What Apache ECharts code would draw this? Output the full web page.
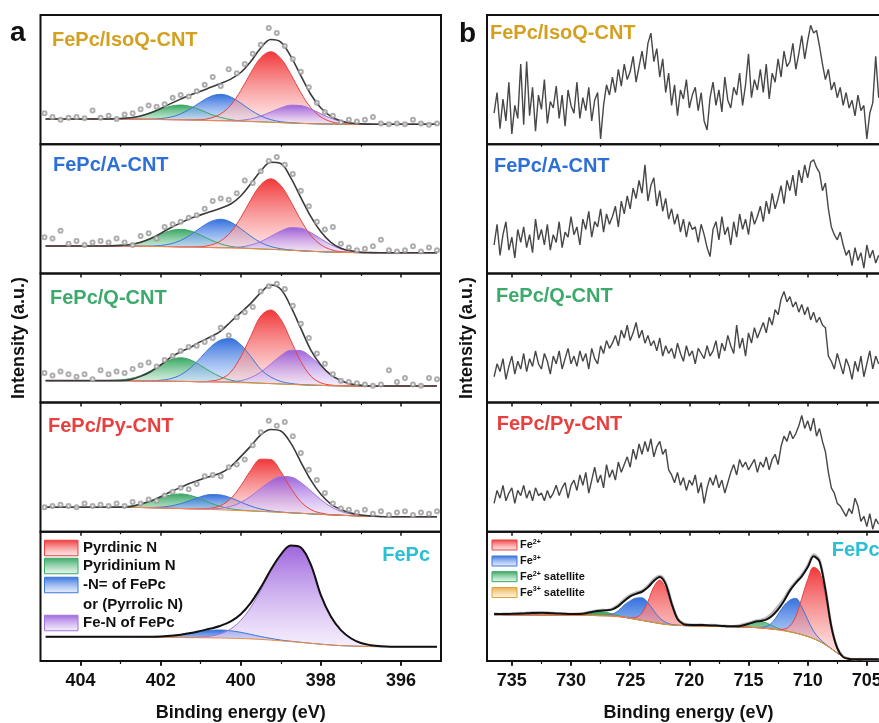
<!DOCTYPE html>
<html>
<head>
<meta charset="utf-8">
<script src="https://cdn.jsdelivr.net/npm/echarts@6/dist/echarts.min.js"></script>
<style>
  html, body { margin: 0; padding: 0; background: #ffffff; }
  #chart { width: 879px; height: 723px; }
</style>
</head>
<body>
<div id="chart"></div>
<script>
// ---------------- N 1s (panel a) ----------------
const N_EV = [404.87,404.75,404.5,404.25,404,403.75,403.5,403.25,403,402.75,402.5,402.25,402,401.75,401.5,401.25,401,400.75,400.5,400.25,400,399.75,399.5,399.25,399,398.75,398.5,398.25,398,397.75,397.5,397.25,397,396.75,396.5,396.25,396,395.75,395.5,395.25,395.1];
const DOT_EV = [404.9,404.7,404.5,404.3,404.1,403.9,403.7,403.5,403.3,403.1,402.9,402.7,402.5,402.3,402.1,401.9,401.7,401.5,401.3,401.1,400.9,400.7,400.5,400.3,400.1,399.9,399.7,399.5,399.3,399.1,398.9,398.7,398.5,398.3,398.1,397.9,397.7,397.5,397.3,397.1,396.9,396.7,396.5,396.3,396.1,395.9,395.7,395.5,395.3,395.1];
const N_TICKS = [396, 398, 400, 402, 404];
const N_MINOR = [397, 399, 401, 403];

// FePc/IsoQ-CNT
const A1_BG = [19.5,19.5,19.5,19.5,19.5,19.5,19.5,19.5,19.5,19.4,19.3,19.2,19.1,19.0,18.9,18.7,18.5,18.3,18.1,17.9,17.7,17.5,17.3,17.0,16.7,16.4,16.1,15.9,15.7,15.6,15.5,15.4,15.4,15.4,15.4,15.4,15.4,15.4,15.4,15.4,15.4];
const A1_GREEN = [0,0,0,0,0,0,0,0.1,0.4,1.1,2.6,4.9,7.9,10.4,11.4,10.4,7.9,4.9,2.6,1.1,0.4,0.1,0,0,0,0,0,0,0,0,0,0,0,0,0,0,0,0,0,0,0];
const A1_BLUE = [0,0,0,0,0,0,0,0,0,0,0,0.2,0.7,2.0,4.6,8.9,14.1,18.7,20.5,18.7,14.1,8.9,4.6,2.0,0.7,0.2,0,0,0,0,0,0,0,0,0,0,0,0,0,0,0];
const A1_RED = [0,0,0,0,0,0,0,0,0,0,0,0,0,0,0,0.2,0.5,1.9,5.4,12.3,23.7,37.7,49.7,54.6,49.7,37.7,23.7,12.3,5.4,1.9,0.5,0.2,0,0,0,0,0,0,0,0,0];
const A1_PURPLE = [0,0,0,0,0,0,0,0,0,0,0,0,0,0,0,0,0,0,0.1,0.3,0.8,2.1,4.5,7.9,11.4,13.8,13.8,11.4,7.9,4.5,2.1,0.8,0.3,0.1,0,0,0,0,0,0,0];
const A1_FIT = [19.5,19.5,19.5,19.5,19.5,19.5,19.5,19.6,19.9,20.5,21.9,24.3,27.7,31.4,34.9,38.2,41.0,44.0,47.0,50.4,55.5,64.0,74.5,81.0,79.0,68.0,53.0,38.5,28.0,21.5,18.0,16.4,15.7,15.5,15.4,15.4,15.4,15.4,15.4,15.4,15.4];
const A1_DOTS = [24,21,19,20.5,21,20,26,20.5,22,19.5,23,24,27,30,29,31,36,38,37,41,46,52,45,58,55,62,70,77,90,86,76,66,56,44,32,25,22,17,19,17.5,19,21,16,15.5,16,15.5,19,16,15,16];

// FePc/A-CNT
const A2_BG = [21.2,21.2,21.2,21.2,21.2,21.2,21.2,21.2,21.2,21.1,21.0,20.9,20.8,20.7,20.5,20.4,20.2,20.0,19.8,19.6,19.4,19.2,18.9,18.6,18.3,17.9,17.5,17.1,16.8,16.5,16.3,16.2,16.0,16.0,16.0,16.0,16.0,16.0,16.0,16.0,16.0];
const A2_GREEN = [0,0,0,0,0,0,0,0.1,0.5,1.3,3.1,5.9,9.4,12.4,13.6,12.4,9.4,5.9,3.1,1.3,0.5,0.1,0,0,0,0,0,0,0,0,0,0,0,0,0,0,0,0,0,0,0];
const A2_BLUE = [0,0,0,0,0,0,0,0,0,0,0,0.2,0.8,2.2,5.0,9.6,15.2,20.1,22.1,20.1,15.2,9.6,5.0,2.2,0.8,0.2,0,0,0,0,0,0,0,0,0,0,0,0,0,0,0];
const A2_RED = [0,0,0,0,0,0,0,0,0,0,0,0,0,0,0,0.2,0.5,1.9,5.4,12.3,23.7,37.7,49.7,54.6,49.7,37.7,23.7,12.3,5.4,1.9,0.5,0.2,0,0,0,0,0,0,0,0,0];
const A2_PURPLE = [0,0,0,0,0,0,0,0,0,0,0,0,0,0,0,0,0,0,0.1,0.4,1.1,2.7,5.7,10.0,14.5,17.5,17.5,14.5,10.0,5.7,2.7,1.1,0.4,0.1,0,0,0,0,0,0,0];
const A2_FIT = [21.2,21.2,21.2,21.2,21.2,21.2,21.2,21.3,21.7,22.4,24.1,27.0,31.0,35.3,39.1,42.6,45.3,47.9,50.5,53.7,59.9,69.3,79.3,86.0,85.0,74.0,58.7,43.9,32.2,24.1,19.5,17.5,16.4,16.1,16.0,16.0,16.0,16.0,16.0,16.0,16.0];
const A2_DOTS = [28,27,33,23,25,22,24,25,24,27,24,22,29,31,27,36,38,40,43,45,50,56,58,57,62,72,70,79,87,90,84,77,64,52,40,34,36,23,20,18,19,21,26,18,17,18,21,17,20,18];

// FePc/Q-CNT
const A3_BG = [17.0,17.0,17.0,17.0,17.0,17.0,17.0,17.0,17.0,16.9,16.8,16.7,16.6,16.5,16.4,16.3,16.1,16.0,15.8,15.6,15.4,15.2,15.0,14.7,14.4,14.1,13.8,13.5,13.3,13.1,13.0,12.9,12.8,12.8,12.8,12.8,12.8,12.8,12.8,12.8,12.8];
const A3_GREEN = [0,0,0,0,0,0,0,0.2,0.6,1.8,4.1,7.9,12.6,16.7,18.3,16.7,12.6,7.9,4.1,1.8,0.6,0.2,0,0,0,0,0,0,0,0,0,0,0,0,0,0,0,0,0,0,0];
const A3_BLUE = [0,0,0,0,0,0,0,0,0,0,0,0.2,0.7,2.0,5.1,10.7,18.7,27.1,32.6,34.0,29.5,20.5,10.7,5.1,2.0,0.7,0.2,0,0,0,0,0,0,0,0,0,0,0,0,0,0];
const A3_RED = [0,0,0,0,0,0,0,0,0,0,0,0,0,0,0,0,0,0.7,2.5,8,20,36,52,57,50,34,18,7,2,0.5,0,0,0,0,0,0,0,0,0,0,0];
const A3_PURPLE = [0,0,0,0,0,0,0,0,0,0,0,0,0,0,0,0,0,0,0.2,0.5,1.6,4.1,8.6,15.1,21.9,26.4,26.4,21.9,15.1,8.6,4.1,1.6,0.5,0.2,0,0,0,0,0,0,0];
const A3_FIT = [17.0,17.0,17.0,17.0,17.0,17.0,17.0,17.0,17.0,17.8,20.3,23.9,29.1,35.0,39.4,42.8,47.2,51.0,55.4,62.6,69.6,76.8,85.1,91.0,87.7,74.3,57.4,40.7,29.1,21.4,17.0,14.4,13.4,12.9,12.9,12.9,12.9,12.9,12.9,12.9,12.9];
const A3_DOTS = [23,21,24,22,20,22,18,25,22,24,23,26,29,31,28,33,36,40,43,44,47,50,58,52,66,70,74,86,90,92,88,75,61,50,38,30,22,17,16,15,14,13,14,25,16,19,14,13,19,18];

// FePc/Py-CNT
const A4_BG = [19.0,19.0,19.0,19.0,19.0,19.0,19.0,19.0,19.0,18.9,18.8,18.6,18.4,18.2,18.0,17.8,17.6,17.3,17.0,16.7,16.4,16.1,15.8,15.5,15.1,14.7,14.3,13.9,13.5,13.1,12.8,12.5,12.2,12.0,11.9,11.7,11.7,11.7,11.7,11.7,11.7];
const A4_GREEN = [0,0,0,0,0,0,0,0.1,0.4,1.1,2.6,4.9,7.8,10.3,11.3,10.3,7.8,4.9,2.6,1.1,0.4,0.1,0,0,0,0,0,0,0,0,0,0,0,0,0,0,0,0,0,0,0];
const A4_BLUE = [0,0,0,0,0,0,0,0,0,0,0,0.2,0.7,1.8,3.8,6.6,9.6,11.5,11.5,9.6,6.6,3.8,1.8,0.7,0.2,0,0,0,0,0,0,0,0,0,0,0,0,0,0,0,0];
const A4_RED = [0,0,0,0,0,0,0,0,0,0,0,0,0,0,0,0,0.2,1.0,3.3,9.0,19.1,31.5,40.4,40.4,31.5,19.1,9.0,3.3,1.0,0.2,0,0,0,0,0,0,0,0,0,0,0];
const A4_PURPLE = [0,0,0,0,0,0,0,0,0,0,0,0,0,0,0,0,0,0.5,1.2,3.0,6.3,11.4,17.8,23.9,27.7,27.7,23.9,17.8,11.4,6.3,3.0,1.2,0.5,0,0,0,0,0,0,0,0];
const A4_FIT = [19.0,19.0,19.0,19.0,19.0,19.0,19.0,19.0,19.0,19.5,21.5,23.8,27.2,31.0,34.4,37.7,40.5,43.0,45.5,50.5,58.2,66.3,75.0,79.2,78.0,68.6,54.0,40.0,29.0,21.5,17.3,14.5,13.0,12.3,11.7,11.7,11.7,11.7,11.7,11.7,11.7];
const A4_DOTS = [19,20,21,20,19,22,20,21,20,22,20,23,22,25,24,28,31,34,33,37,43,44,43,50,52,56,67,77,86,82,85,74,61,48,40,30,22,18,17,15,17,14,16,13,15,16,13,15,14,16];

// FePc
const A5_BG = [18.8,18.8,18.8,18.8,18.8,18.8,18.8,18.8,18.8,18.7,18.6,18.5,18.4,18.3,18.2,18.1,18.0,17.9,17.8,17.6,17.4,17.1,16.7,16.2,15.6,15.0,14.4,13.7,13.0,12.4,11.9,11.6,11.4,11.2,11.1,11.1,11.1,11.1,11.1,11.1,11.1];
const A5_BLUE = [0,0,0,0,0,0,0,0,0,0,0.1,0.3,0.6,1.3,2.2,3.5,4.8,5.8,6.2,5.8,4.8,3.5,2.2,1.3,0.6,0.3,0.1,0,0,0,0,0,0,0,0,0,0,0,0,0,0];
const A5_PURPLE = [0,0,0,0,0,0,0,0,0,0,0,0,0,0,0,0,0.5,1.4,3.3,7.2,14.0,24.4,38.0,53.1,66.2,74.1,73.4,60.9,38,22,12,6,2.5,1.0,0.3,0,0,0,0,0,0];
const A5_FIT = [18.8,18.8,18.8,18.8,18.8,18.8,18.8,18.8,18.8,18.7,18.7,18.8,19.0,19.6,20.4,21.6,23.3,25.1,27.3,30.6,36.2,45.0,56.9,70.6,82.4,89.4,87.9,74.6,51.0,34.4,23.9,17.6,13.9,12.2,11.4,11.1,11.1,11.1,11.1,11.1,11.1];

// ---------------- Fe 2p (panel b) ----------------
const FE_EV = [736.5,736.25,736,735.75,735.5,735.25,735,734.75,734.5,734.25,
  734,733.75,733.5,733.25,733,732.75,732.5,732.25,732,731.75,
  731.5,731.25,731,730.75,730.5,730.25,730,729.75,729.5,729.25,
  729,728.75,728.5,728.25,728,727.75,727.5,727.25,727,726.75,
  726.5,726.25,726,725.75,725.5,725.25,725,724.75,724.5,724.25,
  724,723.75,723.5,723.25,723,722.75,722.5,722.25,722,721.75,
  721.5,721.25,721,720.75,720.5,720.25,720,719.75,719.5,719.25,
  719,718.75,718.5,718.25,718,717.75,717.5,717.25,717,716.75,
  716.5,716.25,716,715.75,715.5,715.25,715,714.75,714.5,714.25,
  714,713.75,713.5,713.25,713,712.75,712.5,712.25,712,711.75,
  711.5,711.25,711,710.75,710.5,710.25,710,709.75,709.5,709.25,
  709,708.75,708.5,708.25,708,707.75,707.5,707.25,707,706.75,
  706.5,706.25,706,705.75,705.5,705.25,705,704.75,704.5,704.25,
  704];
const FE_TICKS = [705, 710, 715, 720, 725, 730, 735];
const FE_MINOR = [707.5, 712.5, 717.5, 722.5, 727.5, 732.5];

const B1_RAW = [24,40,12,35,18,48,8,30,20,62,
  15,64,22,44,10,38,27,50,16,33,
  28,45,20,38,14,42,30,24,48,20,
  36,26,44,18,34,40,4,30,46,38,
  52,40,58,45,62,50,56,68,48,60,
  72,58,78,86,64,74,52,66,40,55,
  30,46,22,42,35,50,28,38,44,26,
  40,18,11,36,48,30,42,25,52,34,
  28,44,38,55,30,46,70,36,50,42,
  58,40,62,35,55,48,66,52,72,60,
  64,78,58,70,84,66,80,92,86,88,
  76,62,50,58,42,48,36,44,30,40,
  28,34,22,38,26,30,4,24,32,68,36];
const B2_RAW = [22,38,14,30,40,18,28,12,34,24,
  36,20,30,16,42,26,34,22,38,18,
  30,24,40,20,32,28,44,30,36,22,
  42,34,48,28,40,36,50,32,46,38,
  44,52,36,56,46,60,50,66,58,72,
  62,84,56,68,74,52,64,48,58,42,
  50,38,46,32,42,28,40,34,36,24,
  38,30,20,13,34,40,26,44,30,36,
  22,40,28,46,34,42,30,48,38,44,
  52,40,56,46,62,50,58,68,54,72,
  64,76,60,80,70,84,74,86,88,82,
  78,64,70,50,36,30,26,32,22,14,
  18,6,20,10,16,4,22,12,18,8,14];
const B3_RAW = [20,30,24,34,18,28,36,22,32,26,
  38,24,34,28,40,30,26,38,32,22,
  36,30,40,26,34,42,30,36,28,40,
  32,38,26,42,34,30,44,38,48,42,
  46,52,44,56,50,60,48,54,62,50,
  56,46,52,44,48,40,50,36,44,38,
  42,34,46,38,32,44,36,40,30,42,
  38,34,44,36,40,48,34,46,40,52,
  44,38,60,42,50,36,54,46,58,50,
  56,62,54,66,60,72,68,80,86,78,
  82,74,78,70,76,68,74,64,70,62,
  66,60,58,36,32,26,38,30,22,34,
  28,18,32,24,36,20,30,40,26,36,30];
const B4_RAW = [22,32,26,36,24,30,34,22,32,28,
  36,26,32,24,34,28,30,24,32,26,
  30,36,28,34,38,26,36,40,32,44,
  36,46,30,40,50,38,44,34,52,42,
  48,40,54,46,52,58,50,64,56,68,
  60,70,62,72,58,66,70,60,64,48,
  44,38,46,36,42,32,40,36,44,30,
  38,22,34,42,36,44,34,40,30,38,
  46,52,44,56,50,54,48,52,56,46,
  54,50,58,48,56,60,52,66,74,70,
  78,72,76,82,90,80,86,78,88,74,
  80,70,62,46,34,30,22,20,16,12,
  18,14,26,20,8,12,4,14,2,10,6];

// FePc Fe 2p fit
const FE_FIT_EV = [736.5,736,735.5,735,734.5,734,733.5,733,732.5,732,731.5,731,730.5,730,729.5,729,728.5,728,727.5,727,726.5,726,725.5,725,724.5,724,723.5,723,722.5,722,721.5,721,720.5,720,719.5,719,718.5,718,717.5,717,716.5,716,715.5,715,714.5,714,713.5,713,712.5,712,711.5,711,710.5,710,709.5,709,708.5,708,707.5,707,706.5,706,705.5,705,704.5,704];
const B5_BG = [35.8,35.8,35.7,35.7,35.7,35.6,35.6,35.6,35.5,35.5,35.5,35.5,35.4,35.4,35.4,35.3,
  35.3,35.2,35.1,35.0,34.8,34.4,33.8,33.0,32.2,31.4,30.6,29.8,29.0,28.4,27.9,27.6,
  27.4,27.2,27.1,27.0,26.9,26.8,26.7,26.6,26.5,26.4,26.3,26.1,25.9,25.6,25.2,24.7,
  24.1,23.4,22.6,21.6,20.4,19.0,17.3,15.2,12.6,9.5,6.2,3.6,2.0,1.5,1.3,1.3,1.3,1.3];
const B5_FE2 = [0,0,0,0,0,0,0,0,0,0,0,0,0,0,0,0,0,0,0,0,0,0,0,
  0.3,1.5,5.8,15.4,27.7,33.7,27.7,15.4,5.8,1.5,0.3,
  0,0,0,0,0,0,0,0,0,0,0,0,0,0,
  0.2,1.2,4.5,13,28,44,55.2,54,38,16,3.5,0.5,
  0,0,0,0,0,0];
const B5_FE3 = [0,0,0,0,0,0,0,0,0,0,0,0,0,0,0,0,0,0,0,
  0.4,1.5,4.5,9.5,13.5,16.5,17.5,14.5,9.0,4.2,1.5,0.4,0.1,
  0,0,0,0,0,0,0,0,0,0,0,0,0,
  0.4,1.5,5,12,19.5,24.5,26.9,21.5,13,5.8,2.0,0.5,0.1,
  0,0,0,0,0,0,0,0];
const B5_FE2SAT = [0,0,0,0,0,0,0,0,0,0,0,0,0,0,
  0.2,0.7,1.6,2.6,3.0,2.6,1.6,0.7,0.2,
  0,0,0,0,0,0,0,0,0,0,0,0,0,0,0,0,0,0,
  0.4,1.2,2.7,4.3,5.0,4.3,2.7,1.2,0.4,
  0,0,0,0,0,0,0,0,0,0,0,0,0,0,0,0];
const B5_FE3SAT = [0,0,
  0.1,0.2,0.4,0.6,0.9,1.1,1.2,1.1,0.9,0.6,0.4,0.2,0.1,
  0,0,0,0,0,0,0,0,0,0,0,0,0,0,0,0,
  0.1,0.25,0.4,0.6,0.75,0.8,0.75,0.6,0.4,0.25,0.1,
  0,0,0,0,0,0,0,0,0,0,0,0,0,0,0,0,0,0,0,0,0,0,0,0];
const B5_FIT = [36.4,36.4,36.4,36.5,36.6,36.8,37.0,37.2,37.3,37.2,37.0,36.7,36.5,36.3,36.3,
  36.6,37.5,38.4,38.9,39.2,40.0,42.5,46.5,50.0,52.0,53.6,57.0,62.0,65.0,59.5,
  44.5,32.5,28.6,27.9,27.9,27.8,27.7,27.5,27.3,27.0,26.8,26.8,27.5,28.8,30.2,
  31.0,32.0,35.0,40.0,46.5,54.5,60.5,65.5,72.5,81.0,77.0,55.0,26.6,9.9,3.0,
  1.6,1.3,1.3,1.3,1.3,1.3];
const B5_RAW = [36.8,36.2,36.9,36.5,37.2,37.0,37.6,37.8,37.4,37.5,37.1,36.8,36.9,36.4,36.7,
  36.9,37.9,38.8,39.6,39.4,40.6,43.5,47.8,51.0,53.2,54.5,58.4,63.5,66.0,60.8,
  45.5,33.0,29.2,28.3,28.0,28.2,27.8,27.9,27.4,27.3,27.0,27.4,28.3,29.6,31.0,
  31.8,33.4,37.0,42.5,48.5,56.0,61.5,66.8,74.0,82.5,78.5,56.0,27.5,10.5,3.4,
  1.8,1.4,1.5,1.3,1.4,1.3];

// ---------------- text ----------------
const SAMPLE_NAMES = ['FePc/IsoQ-CNT', 'FePc/A-CNT', 'FePc/Q-CNT', 'FePc/Py-CNT', 'FePc'];
const SAMPLE_COLORS = ['#D4A020', '#2D6FD6', '#3BAA6A', '#E8403E', '#2BBFD6'];
const N_LEGEND = ['Pyrdinic N', 'Pyridinium N', '-N= of FePc', 'or (Pyrrolic N)', 'Fe-N of FePc'];
const X_TITLE = 'Binding energy (eV)';
const Y_TITLE = 'Intensity (a.u.)';

// ---------------- styling & layout ----------------
const FONT = '"Liberation Sans", Arial, Helvetica, sans-serif';
const ROW_TOPS = [15, 144.2, 273.4, 402.6, 531.8];
const ROW_H = 129.2;
const PANEL_A = { left: 40.5, width: 400.5, min: 395, max: 405 };
const PANEL_B = { left: 487, width: 403.5, min: 703, max: 737.1 };

const COL = {
  red:    { line: '#e8413f', top: 'rgba(240,44,46,0.95)',  bot: 'rgba(255,222,222,0.6)' },
  green:  { line: '#38a862', top: 'rgba(44,162,90,0.95)',  bot: 'rgba(216,242,226,0.6)' },
  blue:   { line: '#3a76d8', top: 'rgba(40,104,220,0.95)', bot: 'rgba(216,230,252,0.6)' },
  purple: { line: '#a274dc', top: 'rgba(150,88,218,0.92)', bot: 'rgba(238,228,252,0.6)' },
  tan:    { line: '#e0a33a', top: 'rgba(232,168,56,0.95)', bot: 'rgba(252,240,210,0.6)' }
};
const grad = c => ({ type: 'linear', x: 0, y: 0, x2: 0, y2: 1,
  colorStops: [{ offset: 0, color: c.top }, { offset: 1, color: c.bot }] });
const pairs = (xs, ys) => xs.map((x, i) => [x, ys[i]]);
// intensity first so that stacking acts on the intensity dimension
const pairsYX = (xs, ys) => xs.map((x, i) => [ys[i], x]);

const grids = [], xAxes = [], yAxes = [], series = [];

// one framed row: returns the axis indices used by its series
function addRow(panel, r, majors, minors) {
  const gi = grids.length;
  grids.push({ left: panel.left, top: ROW_TOPS[r], width: panel.width, height: ROW_H,
    outerBoundsMode: 'none', containLabel: false,
    show: true, borderColor: '#111', borderWidth: 2, backgroundColor: 'transparent' });
  const base = { type: 'value', gridIndex: gi, min: panel.min, max: panel.max, inverse: true,
    axisLine: { show: false }, splitLine: { show: false }, axisLabel: { show: false } };
  const xi = xAxes.length;
  xAxes.push(Object.assign({}, base, { position: 'top',
    axisTick: { show: r > 0, inside: true, length: 4, customValues: majors, lineStyle: { color: '#111', width: 1.5 } } }));
  xAxes.push(Object.assign({}, base, { position: 'top',
    axisTick: { show: r > 0, inside: true, length: 2.5, customValues: minors, lineStyle: { color: '#111', width: 1.2 } } }));
  if (r === 4) {
    xAxes.push(Object.assign({}, base, { position: 'bottom',
      axisTick: { show: true, inside: false, length: 5, customValues: majors, lineStyle: { color: '#111', width: 1.5 } },
      axisLabel: { show: true, customValues: majors, margin: 11, color: '#111', fontSize: 18, fontWeight: 'bold', fontFamily: FONT } }));
    xAxes.push(Object.assign({}, base, { position: 'bottom',
      axisTick: { show: true, inside: false, length: 3, customValues: minors, lineStyle: { color: '#111', width: 1.2 } } }));
  }
  yAxes.push({ type: 'value', gridIndex: gi, min: 0, max: 100, show: false });
  return { xAxisIndex: xi, yAxisIndex: gi };
}

// a fitted component: filled between the background and background + component
function addComponent(ax, xs, bg, vals, c, key) {
  const enc = { x: 1, y: 0 };
  series.push(Object.assign({ type: 'line', stack: key, data: pairsYX(xs, bg), encode: enc, symbol: 'none', smooth: 0.35,
    lineStyle: { opacity: 0 }, silent: true, z: 2 }, ax));
  series.push(Object.assign({ type: 'line', stack: key, data: pairsYX(xs, vals), encode: enc, symbol: 'none', smooth: 0.35,
    lineStyle: { color: COL[c].line, width: 1 }, areaStyle: { color: grad(COL[c]), opacity: 1 }, silent: true, z: 2 }, ax));
}

// Panel a rows
const N_ROWS = [
  { bg: A1_BG, fit: A1_FIT, dots: A1_DOTS, comps: [['green', A1_GREEN], ['blue', A1_BLUE], ['red', A1_RED], ['purple', A1_PURPLE]] },
  { bg: A2_BG, fit: A2_FIT, dots: A2_DOTS, comps: [['green', A2_GREEN], ['blue', A2_BLUE], ['red', A2_RED], ['purple', A2_PURPLE]] },
  { bg: A3_BG, fit: A3_FIT, dots: A3_DOTS, comps: [['green', A3_GREEN], ['blue', A3_BLUE], ['red', A3_RED], ['purple', A3_PURPLE]] },
  { bg: A4_BG, fit: A4_FIT, dots: A4_DOTS, comps: [['green', A4_GREEN], ['blue', A4_BLUE], ['red', A4_RED], ['purple', A4_PURPLE]] },
  { bg: A5_BG, fit: A5_FIT, dots: null,    comps: [['blue', A5_BLUE], ['purple', A5_PURPLE]] }
];
N_ROWS.forEach((row, r) => {
  const ax = addRow(PANEL_A, r, N_TICKS, N_MINOR);
  row.comps.forEach(([c, vals], k) => addComponent(ax, N_EV, row.bg, vals, c, 'n' + r + '_' + k));
  series.push(Object.assign({ type: 'line', data: pairs(N_EV, row.bg), symbol: 'none', smooth: 0.35,
    lineStyle: { color: '#f58a3c', width: 1 }, silent: true, z: 4 }, ax));
  series.push(Object.assign({ type: 'line', data: pairs(N_EV, row.fit), symbol: 'none', smooth: 0.35,
    lineStyle: { color: r === 4 ? '#111' : '#3a3a3a', width: r === 4 ? 2 : 1.6 }, silent: true, z: 5 }, ax));
  if (row.dots) {
    series.push(Object.assign({ type: 'scatter', data: pairs(DOT_EV, row.dots), symbol: 'emptyCircle', symbolSize: 4,
      itemStyle: { color: '#9a9a9a', borderWidth: 1 }, silent: true, z: 6 }, ax));
  }
});

// Panel b rows
[B1_RAW, B2_RAW, B3_RAW, B4_RAW].forEach((vals, r) => {
  const ax = addRow(PANEL_B, r, FE_TICKS, FE_MINOR);
  series.push(Object.assign({ type: 'line', data: pairs(FE_EV, vals), symbol: 'none',
    lineStyle: { color: '#474747', width: 1.4 }, silent: true, z: 3 }, ax));
});
(function () {
  const ax = addRow(PANEL_B, 4, FE_TICKS, FE_MINOR);
  [['tan', B5_FE3SAT], ['green', B5_FE2SAT], ['blue', B5_FE3], ['red', B5_FE2]].forEach(([c, vals], k) =>
    addComponent(ax, FE_FIT_EV, B5_BG, vals, c, 'fe_' + k));
  series.push(Object.assign({ type: 'line', data: pairs(FE_FIT_EV, B5_RAW), symbol: 'none', smooth: 0.3,
    lineStyle: { color: '#bdbdbd', width: 2.4 }, silent: true, z: 3 }, ax));
  series.push(Object.assign({ type: 'line', data: pairs(FE_FIT_EV, B5_BG), symbol: 'none', smooth: 0.3,
    lineStyle: { color: '#f58a3c', width: 1 }, silent: true, z: 4 }, ax));
  series.push(Object.assign({ type: 'line', data: pairs(FE_FIT_EV, B5_FIT), symbol: 'none', smooth: 0.3,
    lineStyle: { color: '#111', width: 2 }, silent: true, z: 5 }, ax));
})();

// ---------------- annotations ----------------
const txt = (x, y, text, font, fill, align, extra) => Object.assign({ type: 'text', x, y, z: 20, silent: true,
  style: { text, font, fill, align: align || 'left', verticalAlign: 'middle' } }, extra || {});
const swatch = (x, yc, w, h, c) => ({ type: 'rect', z: 20, silent: true,
  shape: { x, y: yc - h / 2, width: w, height: h }, style: { fill: grad(COL[c]), stroke: COL[c].line, lineWidth: 1 } });

const graphics = [];
graphics.push(txt(10, 33, 'a', 'bold 28px ' + FONT, '#111'));
graphics.push(txt(459, 34, 'b', 'bold 28px ' + FONT, '#111'));

// sample names
const A_LABEL_POS = [[52, 40], [53, 165], [50, 298.3], [48, 426.7]];
const B_LABEL_POS = [[490, 33.3], [494, 166], [496, 296.7], [496.7, 424]];
for (let i = 0; i < 4; i++) {
  graphics.push(txt(A_LABEL_POS[i][0], A_LABEL_POS[i][1], SAMPLE_NAMES[i], 'bold 20px ' + FONT, SAMPLE_COLORS[i]));
  graphics.push(txt(B_LABEL_POS[i][0], B_LABEL_POS[i][1], SAMPLE_NAMES[i], 'bold 20px ' + FONT, SAMPLE_COLORS[i]));
}
graphics.push(txt(430, 555, SAMPLE_NAMES[4], 'bold 20px ' + FONT, SAMPLE_COLORS[4], 'right'));
graphics.push(txt(831.7, 550, SAMPLE_NAMES[4], 'bold 20px ' + FONT, SAMPLE_COLORS[4]));

// axis titles
graphics.push(txt(240.7, 712.7, X_TITLE, 'bold 18px ' + FONT, '#111', 'center'));
graphics.push(txt(688.5, 712.7, X_TITLE, 'bold 18px ' + FONT, '#111', 'center'));
graphics.push(txt(19.5, 338, Y_TITLE, 'bold 18px ' + FONT, '#111', 'center', { rotation: Math.PI / 2 }));
graphics.push(txt(467, 338, Y_TITLE, 'bold 18px ' + FONT, '#111', 'center', { rotation: Math.PI / 2 }));

// N 1s legend
const N_SW = [['red', 548], ['green', 566], ['blue', 585], ['purple', 623]];
N_SW.forEach(([c, y]) => graphics.push(swatch(44.5, y, 33.5, 15.5, c)));
[548.3, 566, 585, 605, 623.3].forEach((y, i) => graphics.push(txt(83, y, N_LEGEND[i], 'bold 15px ' + FONT, '#111')));

// Fe 2p legend
const FE_SW = [['red', 545], ['blue', 561], ['green', 576.7], ['tan', 592.5]];
FE_SW.forEach(([c, y]) => graphics.push(swatch(492, y, 25, 10, c)));
const supRich = {
  m: { fontSize: 11, fontWeight: 'bold', fontFamily: FONT, fill: '#111', lineHeight: 13 },
  s: { fontSize: 7, fontWeight: 'bold', fontFamily: FONT, fill: '#111', verticalAlign: 'top', lineHeight: 13 }
};
const FE_LEGEND = ['{m|Fe}{s|2+}', '{m|Fe}{s|3+}', '{m|Fe}{s|2+}{m| satellite}', '{m|Fe}{s|3+}{m| satellite}'];
FE_SW.forEach(([c, y], i) => graphics.push({ type: 'text', x: 520, y, z: 20, silent: true,
  style: { text: FE_LEGEND[i], rich: supRich, align: 'left', verticalAlign: 'middle', fill: '#111' } }));

const chart = echarts.init(document.getElementById('chart'), null, { renderer: 'canvas', width: 879, height: 723 });
chart.setOption({
  animation: false,
  backgroundColor: '#ffffff',
  textStyle: { fontFamily: FONT },
  grid: grids,
  xAxis: xAxes,
  yAxis: yAxes,
  series: series,
  graphic: graphics
});
</script>
</body>
</html>
